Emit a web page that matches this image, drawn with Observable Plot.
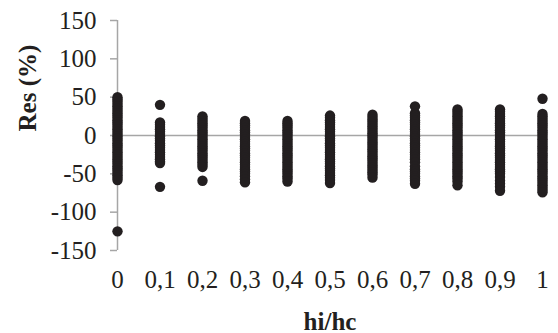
<!DOCTYPE html>
<html>
<head>
<meta charset="utf-8">
<script src="https://cdn.jsdelivr.net/npm/d3@7"></script>
<script src="https://cdn.jsdelivr.net/npm/@observablehq/plot@0.6"></script>
<style>
  html, body { margin: 0; padding: 0; background: #fff; }
</style>
</head>
<body>
<div id="chart"></div>
<script>
// x categories (hi/hc) and their tick labels
const hiHc = [0, 0.1, 0.2, 0.3, 0.4, 0.5, 0.6, 0.7, 0.8, 0.9, 1];
const xTickLabels = ["0", "0,1", "0,2", "0,3", "0,4", "0,5", "0,6", "0,7", "0,8", "0,9", "1"];
const yTicks = [-150, -100, -50, 0, 50, 100, 150];
const yTickLabels = ["-150", "-100", "-50", "0", "50", "100", "150"];

// Res (%) values per hi/hc column
const res00 = [50, 47, 44, 41, 38, 35, 32, 29, 26, 23, 20, 17, 14, 11, 8, 5, 2, -1, -4, -7, -10, -13, -16, -19, -22, -25, -28, -31, -34, -37, -40, -43, -46, -49, -52, -55, -58, -125];
const res01 = [40, 17, 14, 11, 8, 5, 2, -1, -4, -7, -10, -13, -16, -19, -22, -25, -28, -31, -34, -36, -67];
const res02 = [25, 22, 19, 16, 13, 10, 7, 4, 1, -2, -5, -8, -11, -14, -17, -20, -23, -26, -29, -32, -35, -38, -41, -59];
const res03 = [19, 16, 13, 10, 7, 4, 1, -2, -5, -8, -11, -14, -17, -20, -23, -26, -29, -32, -35, -38, -41, -44, -47, -50, -53, -57, -61];
const res04 = [19, 16, 13, 10, 7, 4, 1, -2, -5, -8, -11, -14, -17, -20, -23, -26, -29, -32, -35, -38, -41, -44, -47, -50, -53, -56, -60];
const res05 = [26, 23, 20, 17, 14, 11, 8, 5, 2, -1, -4, -7, -10, -13, -16, -19, -22, -25, -28, -31, -34, -37, -40, -43, -46, -49, -52, -55, -58, -62];
const res06 = [27, 24, 21, 18, 15, 12, 9, 6, 3, 0, -3, -6, -9, -12, -15, -18, -21, -24, -27, -30, -33, -36, -39, -42, -45, -48, -51, -55];
const res07 = [38, 29, 26, 23, 20, 17, 14, 11, 8, 5, 2, -1, -4, -7, -10, -13, -16, -19, -22, -25, -28, -31, -35, -40, -44, -47, -50, -53, -56, -59, -63];
const res08 = [34, 31, 28, 25, 22, 19, 16, 13, 10, 7, 4, 1, -2, -5, -8, -11, -14, -17, -20, -23, -26, -29, -32, -35, -38, -41, -44, -47, -50, -53, -56, -60, -65];
const res09 = [34, 31, 28, 25, 22, 19, 16, 13, 10, 7, 4, 1, -2, -5, -8, -11, -14, -17, -20, -23, -26, -29, -32, -35, -38, -41, -44, -47, -50, -54, -59, -63, -67, -72];
const res10 = [48, 28, 25, 22, 19, 16, 13, 10, 7, 4, 1, -2, -5, -8, -11, -14, -17, -20, -23, -26, -29, -32, -35, -38, -41, -44, -47, -50, -53, -56, -59, -62, -65, -68, -71, -74];

const columns = [res00, res01, res02, res03, res04, res05, res06, res07, res08, res09, res10];
const points = columns.flatMap((vals, i) => vals.map(v => ({x: hiHc[i], y: v})));

const FONT = "'Liberation Serif', 'Times New Roman', serif";
const GRAY = "#a6a6a6";
const INK = "#231f20";

const chart = Plot.plot({
  width: 558,
  height: 333,
  marginLeft: 117,
  marginRight: 16,
  marginTop: 20,
  marginBottom: 83,
  style: {fontFamily: FONT, fontSize: "25px", color: INK, background: "#fff"},
  x: {domain: [0, 1]},
  y: {domain: [-150, 150]},
  marks: [
    Plot.ruleY([0], {stroke: GRAY, strokeWidth: 1.5}),
    Plot.ruleX([0], {stroke: GRAY, strokeWidth: 1.5}),
    Plot.axisY({ticks: yTicks, tickFormat: d => yTickLabels[yTicks.indexOf(d)], tickSize: 7, tickPadding: 14, stroke: GRAY, strokeWidth: 1.5, fill: INK, label: null, fontSize: 25}),
    Plot.dot(points, {x: "x", y: "y", r: 5.2, fill: INK, stroke: "none"}),
    Plot.axisX({ticks: hiHc, tickFormat: d => xTickLabels[hiHc.indexOf(d)], tickSize: 0, tickPadding: 20, fill: INK, label: null, fontSize: 25}),
    Plot.text(["hi/hc"], {frameAnchor: "bottom", dy: 71, fontWeight: "bold", fontSize: 25, fill: INK, lineAnchor: "middle"}),
    Plot.text(["Res (%)"], {frameAnchor: "left", dx: -90, dy: -4, rotate: -90, fontWeight: "bold", fontSize: 25, fill: INK, lineAnchor: "middle"})
  ]
});
document.getElementById("chart").appendChild(chart);
</script>
</body>
</html>
